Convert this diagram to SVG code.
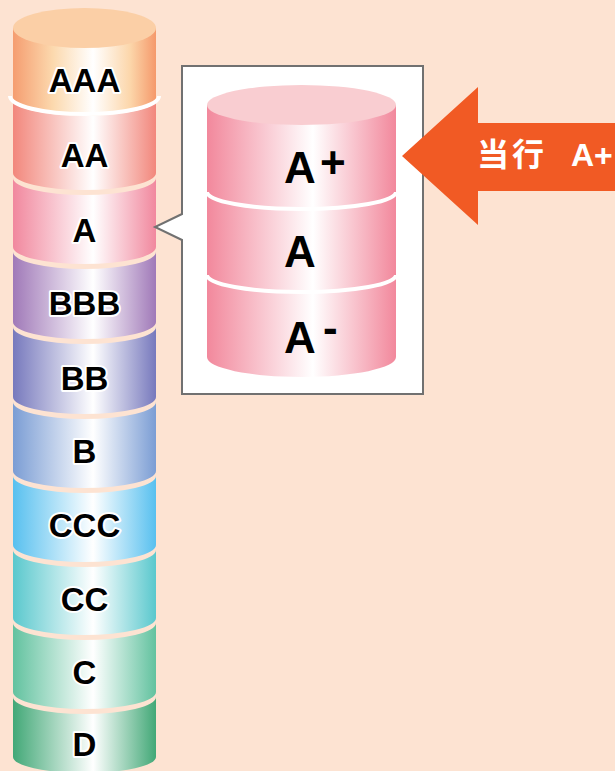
<svg xmlns="http://www.w3.org/2000/svg" width="615" height="771" viewBox="0 0 615 771">
  <defs>
    <linearGradient id="gAAA"><stop offset="0" stop-color="#f59d70"/><stop offset="0.28" stop-color="#fcd9ae"/><stop offset="0.56" stop-color="#ffffff"/><stop offset="0.82" stop-color="#fcd6aa"/><stop offset="1" stop-color="#f5996b"/></linearGradient>
    <linearGradient id="gAA"><stop offset="0" stop-color="#f2877c"/><stop offset="0.56" stop-color="#ffffff"/><stop offset="1" stop-color="#f2877c"/></linearGradient>
    <linearGradient id="gA"><stop offset="0" stop-color="#f1889e"/><stop offset="0.56" stop-color="#ffffff"/><stop offset="1" stop-color="#f1889e"/></linearGradient>
    <linearGradient id="gBBB"><stop offset="0" stop-color="#a079b8"/><stop offset="0.56" stop-color="#ffffff"/><stop offset="1" stop-color="#a079b8"/></linearGradient>
    <linearGradient id="gBB"><stop offset="0" stop-color="#7779bd"/><stop offset="0.56" stop-color="#ffffff"/><stop offset="1" stop-color="#7779bd"/></linearGradient>
    <linearGradient id="gB"><stop offset="0" stop-color="#7b9dd4"/><stop offset="0.56" stop-color="#ffffff"/><stop offset="1" stop-color="#7b9dd4"/></linearGradient>
    <linearGradient id="gCCC"><stop offset="0" stop-color="#58c0ef"/><stop offset="0.56" stop-color="#ffffff"/><stop offset="1" stop-color="#58c0ef"/></linearGradient>
    <linearGradient id="gCC"><stop offset="0" stop-color="#5ac8cd"/><stop offset="0.56" stop-color="#ffffff"/><stop offset="1" stop-color="#5ac8cd"/></linearGradient>
    <linearGradient id="gC"><stop offset="0" stop-color="#62c29f"/><stop offset="0.56" stop-color="#ffffff"/><stop offset="1" stop-color="#62c29f"/></linearGradient>
    <linearGradient id="gD"><stop offset="0" stop-color="#42a877"/><stop offset="0.56" stop-color="#ffffff"/><stop offset="1" stop-color="#42a877"/></linearGradient>
    <linearGradient id="gPink"><stop offset="0" stop-color="#f2889c"/><stop offset="0.56" stop-color="#ffffff"/><stop offset="1" stop-color="#f2889c"/></linearGradient>
  </defs>
  <style>
    .lbl { font-family: "Liberation Sans", Arial, sans-serif; font-weight: bold; font-size: 33px; fill: #000; stroke: #fff; stroke-width: 4px; stroke-linejoin: round; paint-order: stroke; text-anchor: middle; }
    .big { font-family: "Liberation Sans", Arial, sans-serif; font-weight: bold; font-size: 44px; fill: #000; }
    .divider { fill: none; stroke: #fff; stroke-width: 4px; }
    .tag { font-family: "Liberation Sans", "Noto Sans CJK SC", sans-serif; font-weight: bold; font-size: 32px; fill: #fff; }
  </style>

  <rect width="615" height="771" fill="#fde3d2"/>

  <!-- rating column, one band per grade -->
  <g id="grade-AAA">
    <path d="M13,28 L13,98 A71.5,17 0 0 0 156,98 L156,28 Z" fill="url(#gAAA)"/>
    <ellipse cx="84.5" cy="28" rx="71.5" ry="20" fill="#fbcfa6"/>
    <text class="lbl" x="84.5" y="92">AAA</text>
  </g>
  <g id="grade-AA">
    <path d="M13,99 L13,173 A71.5,17 0 0 0 156,173 L156,99 A71.5,17 0 0 1 13,99 Z" fill="url(#gAA)"/>
    <text class="lbl" x="84.5" y="167">AA</text>
  </g>
  <path class="divider" d="M10,96 A74.5,18 0 0 0 159,96"/>
  <g id="grade-A">
    <path d="M13,178 L13,247 A71.5,17 0 0 0 156,247 L156,178 A71.5,17 0 0 1 13,178 Z" fill="url(#gA)"/>
    <text class="lbl" x="84.5" y="242">A</text>
  </g>
  <g id="grade-BBB">
    <path d="M13,252 L13,322 A71.5,17 0 0 0 156,322 L156,252 A71.5,17 0 0 1 13,252 Z" fill="url(#gBBB)"/>
    <text class="lbl" x="84.5" y="315">BBB</text>
  </g>
  <g id="grade-BB">
    <path d="M13,327 L13,397 A71.5,17 0 0 0 156,397 L156,327 A71.5,17 0 0 1 13,327 Z" fill="url(#gBB)"/>
    <text class="lbl" x="84.5" y="390">BB</text>
  </g>
  <g id="grade-B">
    <path d="M13,402 L13,471 A71.5,17 0 0 0 156,471 L156,402 A71.5,17 0 0 1 13,402 Z" fill="url(#gB)"/>
    <text class="lbl" x="84.5" y="463">B</text>
  </g>
  <g id="grade-CCC">
    <path d="M13,476 L13,545 A71.5,17 0 0 0 156,545 L156,476 A71.5,17 0 0 1 13,476 Z" fill="url(#gCCC)"/>
    <text class="lbl" x="84.5" y="537">CCC</text>
  </g>
  <g id="grade-CC">
    <path d="M13,550 L13,618 A71.5,17 0 0 0 156,618 L156,550 A71.5,17 0 0 1 13,550 Z" fill="url(#gCC)"/>
    <text class="lbl" x="84.5" y="611">CC</text>
  </g>
  <g id="grade-C">
    <path d="M13,623 L13,692 A71.5,17 0 0 0 156,692 L156,623 A71.5,17 0 0 1 13,623 Z" fill="url(#gC)"/>
    <text class="lbl" x="84.5" y="684">C</text>
  </g>
  <g id="grade-D">
    <path d="M13,697 L13,757 A71.5,16 0 0 0 156,757 L156,697 A71.5,17 0 0 1 13,697 Z" fill="url(#gD)"/>
    <text class="lbl" x="84.5" y="756">D</text>
  </g>

  <!-- callout box pointing at grade A -->
  <g id="callout">
    <path d="M182,66 H423 V394 H182 V240 L155,227 L182,214 Z" fill="#fff" stroke="#717171" stroke-width="2"/>
  </g>

  <g id="sub-Aplus">
    <path d="M207,105 L207,192 A94.5,17 0 0 0 396,192 L396,105 Z" fill="url(#gPink)"/>
    <ellipse cx="301.5" cy="105" rx="94.5" ry="20" fill="#f9cdd1"/>
    <text class="big" x="284" y="183">A</text>
    <text class="big" x="320" y="178" font-size="40">+</text>
  </g>
  <g id="sub-A">
    <path d="M207,192 L207,275 A94.5,17 0 0 0 396,275 L396,192 A94.5,17 0 0 1 207,192 Z" fill="url(#gPink)"/>
    <text class="big" x="284" y="267">A</text>
  </g>
  <g id="sub-Aminus">
    <path d="M207,275 L207,357 A94.5,20 0 0 0 396,357 L396,275 A94.5,17 0 0 1 207,275 Z" fill="url(#gPink)"/>
    <text class="big" x="284" y="353">A</text>
    <text class="big" x="323" y="343" font-size="46">-</text>
  </g>
  <path class="divider" d="M207,192 A94.5,17 0 0 0 396,192"/>
  <path class="divider" d="M207,275 A94.5,17 0 0 0 396,275"/>

  <!-- current rating arrow -->
  <g id="current-arrow">
    <path d="M402,156 L478,87 L478,123 L615,123 L615,191 L478,191 L478,225 Z" fill="#f15a24"/>
    <text class="tag" y="166"><tspan x="477" font-family="'Noto Sans CJK SC', sans-serif" letter-spacing="3">当行</tspan><tspan x="571">A+</tspan></text>
  </g>
</svg>
